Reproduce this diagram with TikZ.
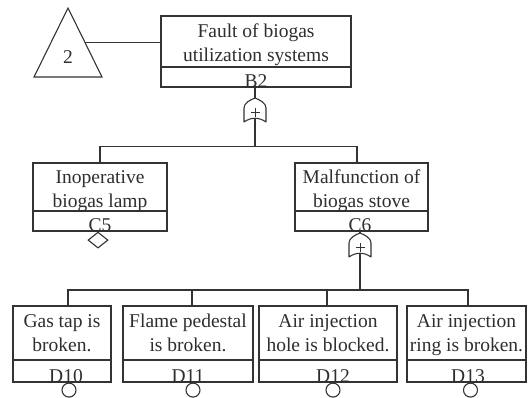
\documentclass[tikz,border=0pt]{standalone}
\usepackage{fontspec}
\setmainfont{Liberation Serif}
\usetikzlibrary{shapes.geometric,calc}
\definecolor{ink}{HTML}{333333}
\definecolor{txt}{HTML}{2E2E2E}

\tikzset{
  edge/.style={draw=ink, line width=1.1pt},
  evbox/.style={edge, rectangle, inner sep=0pt},
  lbl/.style={text=txt, inner sep=0pt, align=center, anchor=base,
              font=\fontsize{19.5}{24.5}\selectfont},
  code/.style={text=txt, inner sep=0pt, anchor=base,
               font=\fontsize{19.5}{24}\selectfont},
  undev/.style={edge, diamond, inner sep=0pt, minimum width=20pt,
                minimum height=16pt, anchor=north},
  basic/.style={edge, circle, inner sep=0pt, minimum size=14pt, anchor=north},
  % OR gate with a plus sign; apex at the origin, output at the base
  orgate/.pic={
    \draw[edge, line join=round]
      (0,0) .. controls (5,2) and (11,5) .. (11,10) -- (11,24)
      .. controls (4,19) and (-4,19) .. (-11,24) -- (-11,10)
      .. controls (-11,5) and (-5,2) .. (0,0) -- cycle;
    \draw[edge, line width=1pt] (-4.5,14.5) -- (4.5,14.5) (0,10) -- (0,19);
    \coordinate (-in) at (0,0);
    \coordinate (-out) at (0,20.3);
  }
}

\begin{document}
\begin{tikzpicture}[x=1pt, y=-1pt]
\useasboundingbox (0,0) rectangle (528,398);

% transfer triangle
\coordinate (tri-apex) at (68,8);
\coordinate (tri-left) at (34,77);
\coordinate (tri-right) at (102,77);
\draw[edge, line join=miter] (tri-apex) -- (tri-right) -- (tri-left) -- cycle;
\node[code, anchor=center] (tri-num) at (68,57) {2};
\coordinate (tri-side) at ($(tri-apex)!0.5!(tri-right)$);

% top event
\node[evbox, minimum width=190pt, minimum height=71pt] (B2) at (256,51.5) {};
\draw[edge] (B2.west |- 0,67) -- (B2.east |- 0,67);
\node[lbl] (B2t) at (256,62) {Fault of biogas\\utilization systems};
\node[code] (B2c) at (256,88) {B2};
\draw[edge] (tri-side) -- (tri-side -| B2.west);

% second level
\node[evbox, minimum width=134pt, minimum height=68pt] (C5) at (100,197) {};
\draw[edge] (C5.west |- 0,211) -- (C5.east |- 0,211);
\node[lbl] (C5t) at (100,208) {Inoperative\\biogas lamp};
\node[code] (C5c) at (100,232) {C5};

\node[evbox, minimum width=133pt, minimum height=68pt] (C6) at (361.5,197) {};
\draw[edge] (C6.west |- 0,211) -- (C6.east |- 0,211);
\node[lbl] (C6t) at (361.5,208) {Malfunction of\\biogas stove};
\node[code] (C6c) at (360,232) {C6};

\node[undev] (C5d) at ([xshift=-2pt]C5.south) {};

% gate under B2
\pic (g1) at (255,98) {orgate};
\draw[edge] (g1-in |- B2.south) -- (g1-in);
\draw[edge] (g1-out) -- ([yshift=16pt]g1-out |- C5.north);
\draw[edge] (C5.north) -- ++(0,-16) -| ([xshift=-4.5pt]C6.north);

% basic events
\node[evbox, minimum width=98pt, minimum height=76pt] (D10) at (62,344) {};
\node[evbox, minimum width=130pt, minimum height=76pt] (D11) at (188,344) {};
\node[evbox, minimum width=138pt, minimum height=76pt] (D12) at (328,344) {};
\node[evbox, minimum width=119pt, minimum height=76pt] (D13) at (466.5,344) {};
\foreach \b in {D10,D11,D12,D13}
  \draw[edge] (\b.west |- 0,360) -- (\b.east |- 0,360);

\node[lbl] (D10t) at (62,352) {Gas tap is\\broken.};
\node[lbl] (D11t) at (188,352) {Flame pedestal\\is broken.};
\node[lbl] (D12t) at (328,352) {Air injection\\hole is blocked.};
\node[lbl] (D13t) at (466.5,352) {Air injection\\ring is broken.};

\node[code] (D10c) at (66,383) {D10};
\node[code] (D11c) at (188,383) {D11};
\node[code] (D12c) at (333,383) {D12};
\node[code] (D13c) at (468,383) {D13};

\node[basic] (D10o) at ([xshift=7pt]D10.south) {};
\node[basic] (D11o) at ([xshift=5pt]D11.south) {};
\node[basic] (D12o) at ([xshift=5pt]D12.south) {};
\node[basic] (D13o) at ([xshift=4pt]D13.south) {};

% gate under C6
\pic (g2) at (360,233) {orgate};
\draw[edge] (g2-in |- C6.south) -- (g2-in);
\coordinate (bus) at (0,290);
\draw[edge] (g2-out) -- (g2-out |- bus);
\draw[edge] ([xshift=6pt]D10.north) |- ([xshift=1.5pt]D13.north |- bus)
  -- ([xshift=1.5pt]D13.north);
\draw[edge] ([xshift=4pt]D11.north) -- ([xshift=4pt]D11.north |- bus);
\draw[edge] ([xshift=-1pt]D12.north) -- ([xshift=-1pt]D12.north |- bus);
\end{tikzpicture}
\end{document}
